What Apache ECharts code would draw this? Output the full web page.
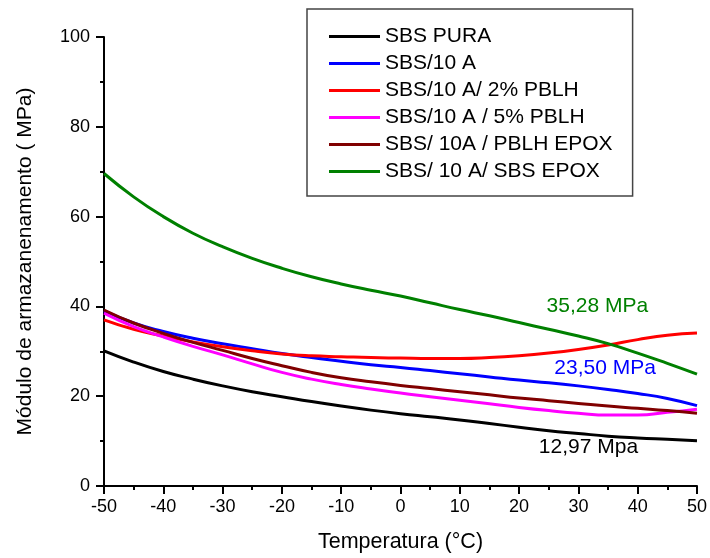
<!DOCTYPE html>
<html>
<head>
<meta charset="utf-8">
<script src="https://cdn.jsdelivr.net/npm/echarts@6/dist/echarts.min.js"></script>
<style>html,body{margin:0;padding:0;background:#fff}#c{width:710px;height:558px}</style>
</head>
<body>
<div id="c"></div>
<script>
var temps = [-50,-45,-40,-35,-30,-25,-20,-15,-10,-5,0,5,10,15,20,25,30,35,40,45,50];
var seriesNames = ['SBS PURA','SBS/10 A','SBS/10 A/ 2% PBLH','SBS/10 A / 5% PBLH','SBS/ 10A / PBLH EPOX','SBS/ 10 A/ SBS EPOX'];
var sbsPura   = [30.1,27.6,25.5,23.8,22.3,21.0,19.9,18.8,17.8,16.9,16.1,15.4,14.7,13.9,13.1,12.3,11.7,11.1,10.7,10.4,10.1];
var sbs10A    = [39.0,36.3,34.4,32.9,31.7,30.6,29.5,28.6,27.8,27.0,26.4,25.7,25.0,24.3,23.6,23.0,22.3,21.5,20.6,19.5,17.9];
var pblh2     = [37.0,34.9,33.4,32.1,31.0,30.1,29.4,29.0,28.8,28.6,28.5,28.4,28.4,28.6,29.0,29.6,30.4,31.4,32.6,33.6,34.1];
var pblh5     = [38.5,35.5,33.2,31.1,29.2,27.2,25.3,23.8,22.6,21.6,20.7,19.9,19.1,18.3,17.5,16.8,16.2,15.8,15.8,16.4,17.1];
var pblhEpox  = [39.2,36.3,34.0,32.0,30.2,28.4,26.8,25.3,24.1,23.2,22.4,21.7,21.0,20.3,19.6,19.0,18.4,17.8,17.3,16.8,16.2];
var sbsEpox   = [69.6,64.4,60.0,56.3,53.3,50.7,48.5,46.6,45.0,43.6,42.3,40.8,39.3,37.9,36.4,34.9,33.4,31.7,29.6,27.3,24.9];
var xTicks = [-50,-40,-30,-20,-10,0,10,20,30,40,50];
var yTicks = [0,20,40,60,80,100];
var annTexts = ['35,28 MPa','23,50 MPa','12,97 Mpa'];
var annAt = [[33.2,40.1],[34.5,26.2],[31.7,8.75]];

var colors = ['#000000','#0000ff','#ff0000','#ff00ff','#800000','#008000'];
var allVals = [sbsPura, sbs10A, pblh2, pblh5, pblhEpox, sbsEpox];
var annSeriesIdx = [5,1,0];
var FONT = '"Liberation Sans", Arial, sans-serif';

var series = allVals.map(function(vals, i){
  var s = {
    name: seriesNames[i], type: 'line', smooth: 0.5, showSymbol: false, symbol: 'none',
    data: temps.map(function(t, k){ return [t, vals[k]]; }),
    lineStyle: {color: colors[i], width: 3}, itemStyle: {color: colors[i]},
    z: 2 + i
  };
  var a = annSeriesIdx.indexOf(i);
  if (a >= 0) {
    s.markPoint = {
      symbol: 'circle', symbolSize: 0, silent: true,
      label: {show: true, position: 'inside', formatter: annTexts[a], color: colors[i], fontSize: 21, fontFamily: FONT},
      data: [{coord: annAt[a]}]
    };
  }
  return s;
});

var chart = echarts.init(document.getElementById('c'));
chart.setOption({
  animation: false,
  backgroundColor: '#fff',
  grid: {left: 104, right: 12, top: 37, bottom: 72},
  legend: {
    orient: 'vertical', left: 307, top: 9,
    padding: [14, 20, 11, 22], itemGap: 0,
    itemWidth: 51, itemHeight: 3, icon: 'rect',
    backgroundColor: '#fff', borderColor: '#444', borderWidth: 1.5,
    textStyle: {fontSize: 21, fontFamily: FONT, color: '#000', lineHeight: 27, padding: [0,0,0,0]},
    data: seriesNames
  },
  xAxis: {
    type: 'value', min: xTicks[0], max: xTicks[xTicks.length-1], interval: xTicks[1]-xTicks[0],
    name: 'Temperatura (°C)', nameLocation: 'middle', nameGap: 45,
    nameTextStyle: {fontSize: 21.5, fontFamily: FONT, color: '#000'},
    axisLine: {onZero: false, lineStyle: {color: '#000', width: 2}},
    axisTick: {inside: false, length: 8, lineStyle: {width: 2}},
    minorTick: {show: true, splitNumber: 2, length: 4, lineStyle: {color: '#000', width: 2}},
    axisLabel: {fontSize: 18, fontFamily: FONT, color: '#000', margin: 12},
    splitLine: {show: false}
  },
  yAxis: {
    type: 'value', min: yTicks[0], max: yTicks[yTicks.length-1], interval: yTicks[1]-yTicks[0],
    name: 'Módulo de armazanenamento ( MPa)', nameLocation: 'middle', nameGap: 68,
    nameTextStyle: {fontSize: 21, fontFamily: FONT, color: '#000'},
    axisLine: {show: true, onZero: false, lineStyle: {color: '#000', width: 2}},
    axisTick: {show: true, inside: false, length: 8, lineStyle: {width: 2}},
    minorTick: {show: true, splitNumber: 2, length: 4, lineStyle: {color: '#000', width: 2}},
    axisLabel: {fontSize: 18, fontFamily: FONT, color: '#000', margin: 14},
    splitLine: {show: false}
  },
  series: series
});
</script>
</body>
</html>
